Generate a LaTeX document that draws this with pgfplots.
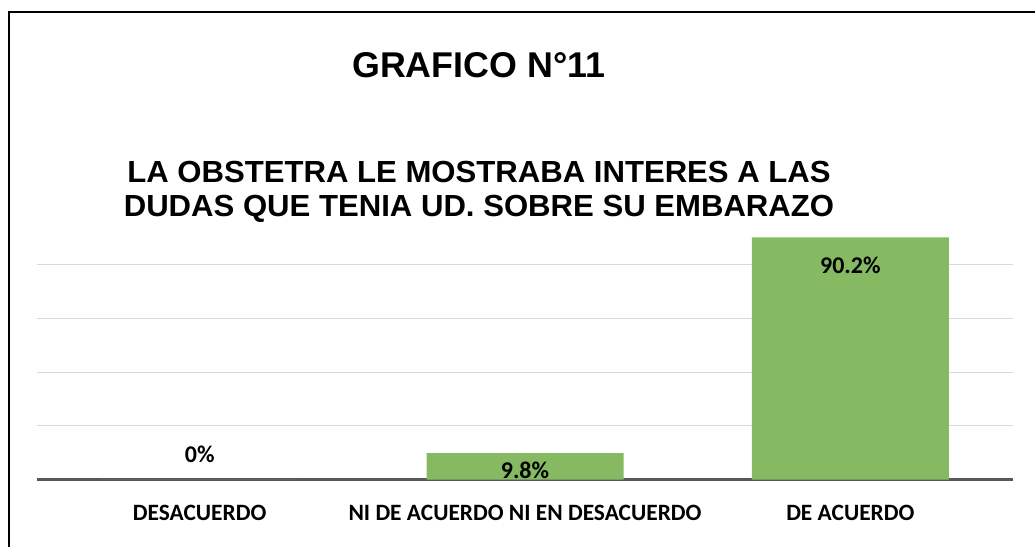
\documentclass[border=0pt]{standalone}
\usepackage{pgfplots}
\pgfplotsset{compat=1.18}
\usepackage{fontspec}
\setmainfont{Carlito}
\newfontfamily\arialfont{Liberation Sans}
\definecolor{bargreen}{RGB}{133,186,98}
\definecolor{gridgray}{RGB}{217,217,217}
\definecolor{basegray}{RGB}{89,89,89}
\begin{document}
\begin{tikzpicture}[x=1pt,y=1pt]
\path[use as bounding box] (0,0) rectangle (1035,546);
\draw[line width=2pt, black] (9,-5) -- (9,534) -- (1040,534);
\node[anchor=base, font=\arialfont\bfseries\fontsize{35.8}{42}\selectfont] at (478.7,468) {GRAFICO N°11};
\node[anchor=base, xscale=1.02, font=\arialfont\bfseries\fontsize{30.5}{36}\selectfont] at (479,363) {LA OBSTETRA LE MOSTRABA INTERES A LAS};
\node[anchor=base, xscale=1.02, font=\arialfont\bfseries\fontsize{30.5}{36}\selectfont] at (479,329) {DUDAS QUE TENIA UD. SOBRE SU EMBARAZO};
\begin{axis}[
  at={(37pt,66.5pt)}, anchor=south west,
  scale only axis, width=976pt, height=268.5pt,
  xmin=-0.5, xmax=2.5, ymin=0, ymax=100,
  axis x line=bottom, axis y line=left,
  x axis line style={line width=3.5pt, color=basegray, -},
  y axis line style={draw=none},
  xtick={0,1,2},
  xticklabels={DESACUERDO, NI DE ACUERDO NI EN DESACUERDO, DE ACUERDO},
  xtick style={draw=none},
  xticklabel style={anchor=center, yshift=-31pt, font=\bfseries\fontsize{23.4}{27}\selectfont},
  ytick={20,40,60,80}, yticklabels={}, ytick style={draw=none},
  ymajorgrids, grid style={gridgray, line width=1pt},
  clip=false,
]
\addplot[ybar, bar width=197pt, fill=bargreen, draw=none] coordinates {(0,0) (1,9.8) (2,90.2)};
\addplot[only marks, mark=none, point meta=explicit symbolic,
  nodes near coords, every node near coord/.style={anchor=center, font=\bfseries\fontsize{24}{28}\selectfont, text=black}]
  coordinates {(0,9.3) [0\%] (1,3.5) [9.8\%] (2,79.7) [90.2\%]};
\end{axis}
\end{tikzpicture}
\end{document}
